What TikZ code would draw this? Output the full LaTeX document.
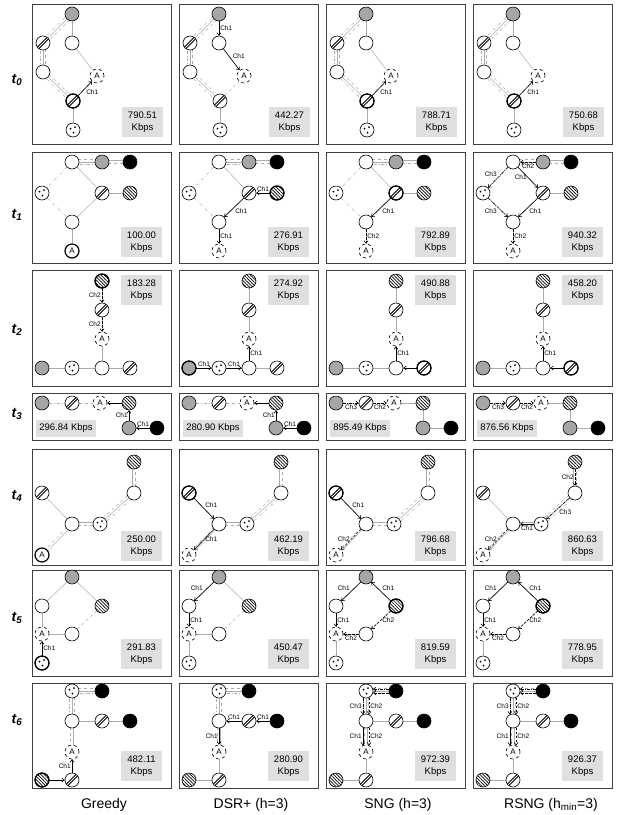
\documentclass[tikz,border=0pt]{standalone}
\usepackage{fontspec}
\setmainfont{Liberation Sans}
\usetikzlibrary{arrows.meta,patterns.meta,backgrounds,calc}

\tikzset{
  nd/.style={circle,draw,minimum size=14pt,inner sep=0pt,fill=white,line width=0.6pt},
  wnd/.style={nd},
  gnd/.style={nd,fill=gray!70},
  bnd/.style={nd,fill=black},
  snd/.style={nd,preaction={fill=white},pattern={Lines[angle=-45,distance=2.3pt,line width=0.7pt]}},
  hnd/.style={nd,path picture={
      \draw[line width=3pt] (path picture bounding box.south west) -- (path picture bounding box.north east);
      \draw[white,line width=0.9pt] (path picture bounding box.south west) -- (path picture bounding box.north east);}},
  dnd/.style={nd,path picture={
      \fill[black] ($(path picture bounding box.center)+(-2.5pt,1.5pt)$) circle (1pt);
      \fill[black] ($(path picture bounding box.center)+(2pt,3pt)$) circle (1pt);
      \fill[black] ($(path picture bounding box.center)+(0.5pt,-2.5pt)$) circle (1pt);}},
  anode/.style={nd,dashed,font=\fontsize{8}{8}\selectfont},
  asolid/.style={nd,line width=1.2pt,font=\fontsize{8}{8}\selectfont},
  pane/.style={draw=black!75,line width=1pt},
  kbox/.style={fill=gray!25,minimum width=41pt,minimum height=30pt,inner sep=0pt,align=center,font=\fontsize{9.5}{11.5}\selectfont},
  kwide/.style={fill=gray!25,minimum width=60pt,minimum height=17pt,inner sep=0pt,font=\fontsize{9.5}{11.5}\selectfont},
  lab/.style={font=\fontsize{6.5}{7}\selectfont,inner sep=1pt},
  lnk/.style={draw=gray!65,line width=0.5pt},
  c1/.style={draw=black,line width=0.6pt,-{Straight Barb[length=2.5pt,width=4pt]}},
  c2/.style={c1,dash pattern=on 2.5pt off 1.5pt},
  c3/.style={c1,dash pattern=on 3pt off 1pt on 1pt off 1pt},
  tlab/.style={font=\bfseries\itshape\fontsize{14}{14}\selectfont},
  blab/.style={font=\fontsize{14}{14}\selectfont}
}

% three and two parallel links
\newcommand{\trilink}[2]{%
  \draw[lnk] (#1) -- (#2);
  \draw[lnk,dashed] ($(#1)!2.5pt!90:(#2)$) -- ($(#2)!2.5pt!-90:(#1)$);
  \draw[lnk,dash dot] ($(#1)!2.5pt!-90:(#2)$) -- ($(#2)!2.5pt!90:(#1)$);}
\newcommand{\duolink}[2]{%
  \draw[lnk] ($(#1)!1.3pt!90:(#2)$) -- ($(#2)!1.3pt!-90:(#1)$);
  \draw[lnk,dashed] ($(#1)!1.3pt!-90:(#2)$) -- ($(#2)!1.3pt!90:(#1)$);}

% one macro per row: #1 = name prefix, #2 = style of node A
\newcommand{\rowzero}[2]{%
  \node[gnd] (#1-g) at (40,10) {};
  \node[hnd] (#1-h) at (11,39) {};
  \node[wnd] (#1-w) at (40,39) {};
  \node[wnd] (#1-v) at (11,68) {};
  \node[#2] (#1-a) at (65,72) {A};
  \node[hnd] (#1-k) at (41,97) {};
  \node[dnd] (#1-d) at (41,126) {};
  \begin{scope}[on background layer]
    \trilink{#1-g}{#1-h}
    \draw[lnk] (#1-g) -- (#1-w);
    \trilink{#1-h}{#1-v}
    \trilink{#1-v}{#1-k}
    \draw[lnk] (#1-w) -- (#1-a);
    \draw[lnk,dashed] (#1-k) -- (#1-a);
    \draw[lnk] (#1-k) -- (#1-d);
  \end{scope}}
\newcommand{\rowone}[2]{%
  \node[wnd] (#1-o) at (40,10) {};
  \node[gnd] (#1-g) at (70,10) {};
  \node[bnd] (#1-b) at (98,10) {};
  \node[dnd] (#1-d) at (10,41) {};
  \node[hnd] (#1-h) at (70,41) {};
  \node[snd] (#1-s) at (98,41) {};
  \node[wnd] (#1-w) at (40,70) {};
  \node[#2] (#1-a) at (40,99) {A};
  \begin{scope}[on background layer]
    \trilink{#1-o}{#1-g}
    \duolink{#1-g}{#1-b}
    \draw[lnk,dash dot] (#1-o) -- (#1-d);
    \draw[lnk,dash dot] (#1-d) -- (#1-w);
    \draw[lnk] (#1-o) -- (#1-h);
    \draw[lnk] (#1-h) -- (#1-s);
    \draw[lnk] (#1-h) -- (#1-w);
    \draw[lnk] (#1-w) -- (#1-a);
  \end{scope}}
\newcommand{\rowtwo}[2]{%
  \node[snd] (#1-s) at (70,11) {};
  \node[hnd] (#1-h) at (70,40) {};
  \node[#2] (#1-a) at (70,69) {A};
  \node[gnd] (#1-g) at (10,98) {};
  \node[dnd] (#1-d) at (40,98) {};
  \node[wnd] (#1-w) at (70,98) {};
  \node[hnd] (#1-k) at (98,98) {};
  \begin{scope}[on background layer]
    \draw[lnk] (#1-s) -- (#1-h);
    \draw[lnk] (#1-h) -- (#1-a);
    \draw[lnk] (#1-a) -- (#1-w);
    \draw[lnk] (#1-g) -- (#1-d);
    \draw[lnk] (#1-d) -- (#1-w);
    \draw[lnk] (#1-w) -- (#1-k);
  \end{scope}}
\newcommand{\rowthree}[2]{%
  \node[gnd] (#1-g) at (10,10) {};
  \node[hnd] (#1-h) at (40,10) {};
  \node[#2] (#1-a) at (68,10) {A};
  \node[snd] (#1-s) at (97,10) {};
  \node[gnd] (#1-q) at (97,35) {};
  \node[bnd] (#1-b) at (125,35) {};
  \begin{scope}[on background layer]
    \draw[lnk,dash dot] (#1-g) -- (#1-h);
    \draw[lnk,dashed] (#1-h) -- (#1-a);
    \draw[lnk] (#1-a) -- (#1-s);
    \draw[lnk] (#1-s) -- (#1-q);
    \draw[lnk] (#1-q) -- (#1-b);
  \end{scope}}
\newcommand{\rowfour}[2]{%
  \node[snd] (#1-s) at (102,13) {};
  \node[hnd] (#1-h) at (10,44) {};
  \node[wnd] (#1-u) at (102,44) {};
  \node[wnd] (#1-w) at (40,75) {};
  \node[dnd] (#1-d) at (68,75) {};
  \node[#2] (#1-a) at (10,106) {A};
  \begin{scope}[on background layer]
    \draw[lnk] (#1-h) -- (#1-w);
    \duolink{#1-w}{#1-d}
    \trilink{#1-d}{#1-u}
    \duolink{#1-u}{#1-s}
    \duolink{#1-w}{#1-a}
  \end{scope}}
\newcommand{\rowfive}[2]{%
  \node[gnd] (#1-g) at (40,7) {};
  \node[wnd] (#1-u) at (10,36) {};
  \node[snd] (#1-s) at (70,36) {};
  \node[#2] (#1-a) at (10,64) {A};
  \node[wnd] (#1-w) at (40,64) {};
  \node[dnd] (#1-d) at (10,93) {};
  \begin{scope}[on background layer]
    \draw[lnk] (#1-g) -- (#1-u);
    \draw[lnk] (#1-g) -- (#1-s);
    \draw[lnk] (#1-u) -- (#1-a);
    \draw[lnk] (#1-a) -- (#1-w);
    \draw[lnk,dashed] (#1-w) -- (#1-s);
    \draw[lnk] (#1-a) -- (#1-d);
  \end{scope}}
\newcommand{\rowsix}[2]{%
  \node[dnd] (#1-d) at (40,8) {};
  \node[bnd] (#1-e) at (70,8) {};
  \node[wnd] (#1-w) at (40,38) {};
  \node[hnd] (#1-h) at (70,38) {};
  \node[bnd] (#1-b) at (98,38) {};
  \node[#2] (#1-a) at (40,69) {A};
  \node[snd] (#1-s) at (10,97) {};
  \node[hnd] (#1-k) at (40,97) {};
  \begin{scope}[on background layer]
    \trilink{#1-d}{#1-e}
    \trilink{#1-d}{#1-w}
    \draw[lnk] (#1-w) -- (#1-h);
    \draw[lnk] (#1-h) -- (#1-b);
    \duolink{#1-w}{#1-a}
    \draw[lnk] (#1-a) -- (#1-k);
    \draw[lnk] (#1-s) -- (#1-k);
  \end{scope}}

\begin{document}
\begin{tikzpicture}[x=1pt,y=-1pt]
\useasboundingbox (0,0) rectangle (620,815);

% panel frames
\foreach \y/\h in {4/140,152/111,270/116,393/47,449/116,570/106,683/105}{
  \foreach \x in {32,179,326,473}{
    \draw[pane] (\x,\y) rectangle ++(139,\h);}}

% row labels and column labels
\foreach \i/\y in {0/80,1/215,2/330,3/414,4/496,5/618,6/720}
  \node[tlab] (t\i) at (17,\y) {t\textsubscript{\i}};
\node[blab] (n1) at (104,805) {Greedy};
\node[blab] (n2) at (251,805) {DSR+ (h=3)};
\node[blab] (n3) at (398,805) {SNG (h=3)};
\node[blab] (n4) at (551,805) {RSNG (h\textsubscript{min}=3)};

% t0
\foreach \c/\x in {1/32,2/179,3/326,4/473}{
  \begin{scope}[shift={(\x,4)}]
    \rowzero{p0\c}{anode}
  \end{scope}}
\foreach \c/\x/\v in {1/32/790.51,2/179/442.27,3/326/788.71,4/473/750.68}
  \node[kbox] (v0\c) at (\x+110.5,122) {\v\\Kbps};
\draw[c1] (p01-k) -- node[lab,below right]{Ch1} (p01-a);
\draw[c1] (p02-g) -- node[lab,right]{Ch1} (p02-w);
\draw[c1] (p02-w) -- node[lab,above right]{Ch1} (p02-a);
\draw[c1] (p03-k) -- node[lab,below right]{Ch1} (p03-a);
\draw[c1] (p04-k) -- node[lab,below right]{Ch1} (p04-a);
\foreach \n in {p01-k,p03-k,p04-k}
  \draw[line width=1.3pt] (\n) circle[radius=7];

% t1
\foreach \c/\x/\anst in {1/32/asolid,2/179/anode,3/326/anode,4/473/anode}{
  \begin{scope}[shift={(\x,152)}]
    \rowone{p1\c}{\anst}
  \end{scope}}
\foreach \c/\x/\v in {1/32/100.00,2/179/276.91,3/326/792.89,4/473/940.32}
  \node[kbox] (v1\c) at (\x+109.5,242) {\v\\Kbps};
\draw[c1] (p12-s) -- node[lab,above]{Ch1} (p12-h);
\draw[c1] (p12-h) -- node[lab,below right]{Ch1} (p12-w);
\draw[c1] (p12-w) -- node[lab,right]{Ch1} (p12-a);
\draw[c1] (p13-h) -- node[lab,below right]{Ch1} (p13-w);
\draw[c2] (p13-w) -- node[lab,right]{Ch2} (p13-a);
\draw[c2] (p14-g) -- node[lab,below]{Ch2} (p14-o);
\draw[c1] (p14-o) -- node[lab,left]{Ch1} (p14-h);
\draw[c3] (p14-o) -- node[lab,above left]{Ch3} (p14-d);
\draw[c3] (p14-d) -- node[lab,below left]{Ch3} (p14-w);
\draw[c1] (p14-h) -- node[lab,below right]{Ch1} (p14-w);
\draw[c2] (p14-w) -- node[lab,right]{Ch2} (p14-a);
\foreach \n in {p12-s,p13-h}
  \draw[line width=1.3pt] (\n) circle[radius=7];

% t2
\foreach \c/\x in {1/32,2/179,3/326,4/473}{
  \begin{scope}[shift={(\x,270)}]
    \rowtwo{p2\c}{anode}
  \end{scope}}
\foreach \c/\x/\v in {1/32/183.28,2/179/274.92,3/326/490.88,4/473/458.20}
  \node[kbox] (v2\c) at (\x+109.5,290) {\v\\Kbps};
\draw[c2] (p21-s) -- node[lab,left]{Ch2} (p21-h);
\draw[c2] (p21-h) -- node[lab,left]{Ch2} (p21-a);
\draw[c1] (p22-g) -- node[lab,above]{Ch1} (p22-d);
\draw[c1] (p22-d) -- node[lab,above]{Ch1} (p22-w);
\draw[c1] (p22-w) -- node[lab,right]{Ch1} (p22-a);
\draw[c1] (p23-k) -- (p23-w);
\draw[c1] (p23-w) -- node[lab,right]{Ch1} (p23-a);
\draw[c1] (p24-k) -- (p24-w);
\draw[c1] (p24-w) -- node[lab,right]{Ch1} (p24-a);
\foreach \n in {p21-s,p22-g,p23-k,p24-k}
  \draw[line width=1.3pt] (\n) circle[radius=7];

% t3
\foreach \c/\x in {1/32,2/179,3/326,4/473}{
  \begin{scope}[shift={(\x,393)}]
    \rowthree{p3\c}{anode}
  \end{scope}}
\foreach \c/\x/\v in {1/32/296.84,2/179/280.90,3/326/895.49,4/473/876.56}
  \node[kwide] (v3\c) at (\x+34,428) {\v\ Kbps};
\foreach \c in {1,2}{
  \draw[c1] (p3\c-s) -- (p3\c-a);
  \draw[c1] (p3\c-q) -- node[lab,left]{Ch1} (p3\c-s);
  \draw[c1] (p3\c-b) -- node[lab,above]{Ch1} (p3\c-q);}
\foreach \c in {3,4}{
  \draw[c3] (p3\c-g) -- node[lab,below]{Ch3} (p3\c-h);
  \draw[c2] (p3\c-h) -- node[lab,below]{Ch2} (p3\c-a);}

% t4
\foreach \c/\x/\anst in {1/32/asolid,2/179/anode,3/326/anode,4/473/anode}{
  \begin{scope}[shift={(\x,449)}]
    \rowfour{p4\c}{\anst}
  \end{scope}}
\foreach \c/\x/\v in {1/32/250.00,2/179/462.19,3/326/796.68,4/473/860.63}
  \node[kbox] (v4\c) at (\x+109.5,546) {\v\\Kbps};
\draw[c1] (p42-h) -- node[lab,above right]{Ch1} (p42-w);
\draw[c1] (p42-w) -- node[lab,right]{Ch1} (p42-a);
\draw[c1] (p43-h) -- node[lab,above right]{Ch1} (p43-w);
\draw[c2] (p43-w) -- node[lab,left]{Ch2} (p43-a);
\draw[c2] (p44-s) -- node[lab,left]{Ch2} (p44-u);
\draw[c3] (p44-u) -- node[lab,below right]{Ch3} (p44-d);
\draw[c1] (p44-d) -- node[lab,below]{Ch1} (p44-w);
\draw[c2] (p44-w) -- node[lab,left]{Ch2} (p44-a);
\foreach \n in {p42-h,p43-h}
  \draw[line width=1.3pt] (\n) circle[radius=7];

% t5
\foreach \c/\x in {1/32,2/179,3/326,4/473}{
  \begin{scope}[shift={(\x,570)}]
    \rowfive{p5\c}{anode}
  \end{scope}}
\foreach \c/\x/\v in {1/32/291.83,2/179/450.47,3/326/819.59,4/473/778.95}
  \node[kbox] (v5\c) at (\x+109.5,654) {\v\\Kbps};
\draw[c1] (p51-d) -- node[lab,right]{Ch1} (p51-a);
\draw[c1] (p52-g) -- node[lab,above left]{Ch1} (p52-u);
\draw[c1] (p52-u) -- node[lab,right]{Ch1} (p52-a);
\foreach \c in {3,4}{
  \draw[c1] (p5\c-g) -- node[lab,above left]{Ch1} (p5\c-u);
  \draw[c1] (p5\c-s) -- node[lab,above right]{Ch1} (p5\c-g);
  \draw[c1] (p5\c-u) -- node[lab,right]{Ch1} (p5\c-a);
  \draw[c2] (p5\c-s) -- node[lab,right]{Ch2} (p5\c-w);
  \draw[c2] (p5\c-w) -- node[lab,below]{Ch2} (p5\c-a);}
\foreach \n in {p51-d,p53-s,p54-s}
  \draw[line width=1.3pt] (\n) circle[radius=7];

% t6
\foreach \c/\x in {1/32,2/179,3/326,4/473}{
  \begin{scope}[shift={(\x,683)}]
    \rowsix{p6\c}{anode}
  \end{scope}}
\foreach \c/\x/\v in {1/32/482.11,2/179/280.90,3/326/972.39,4/473/926.37}
  \node[kbox] (v6\c) at (\x+109.5,766) {\v\\Kbps};
\draw[c1] (p61-s) -- (p61-k);
\draw[c1] (p61-k) -- node[lab,left]{Ch1} (p61-a);
\draw[c1] (p62-b) -- node[lab,above]{Ch1} (p62-h);
\draw[c1] (p62-h) -- node[lab,above]{Ch1} (p62-w);
\draw[c1] (p62-w) -- node[lab,left]{Ch1} (p62-a);
\foreach \c in {3,4}{
  \draw[c3] (p6\c-e.165) -- (p6\c-d.15);
  \draw[c2] (p6\c-e.195) -- (p6\c-d.-15);
  \draw[c3] (p6\c-d.-115) -- node[lab,left]{Ch3} (p6\c-w.115);
  \draw[c2] (p6\c-d.-65) -- node[lab,right]{Ch2} (p6\c-w.65);
  \draw[c1] (p6\c-w.-115) -- node[lab,left]{Ch1} (p6\c-a.115);
  \draw[c2] (p6\c-w.-65) -- node[lab,right]{Ch2} (p6\c-a.65);}
\draw[line width=1.3pt] (p61-s) circle[radius=7];
\end{tikzpicture}
\end{document}
